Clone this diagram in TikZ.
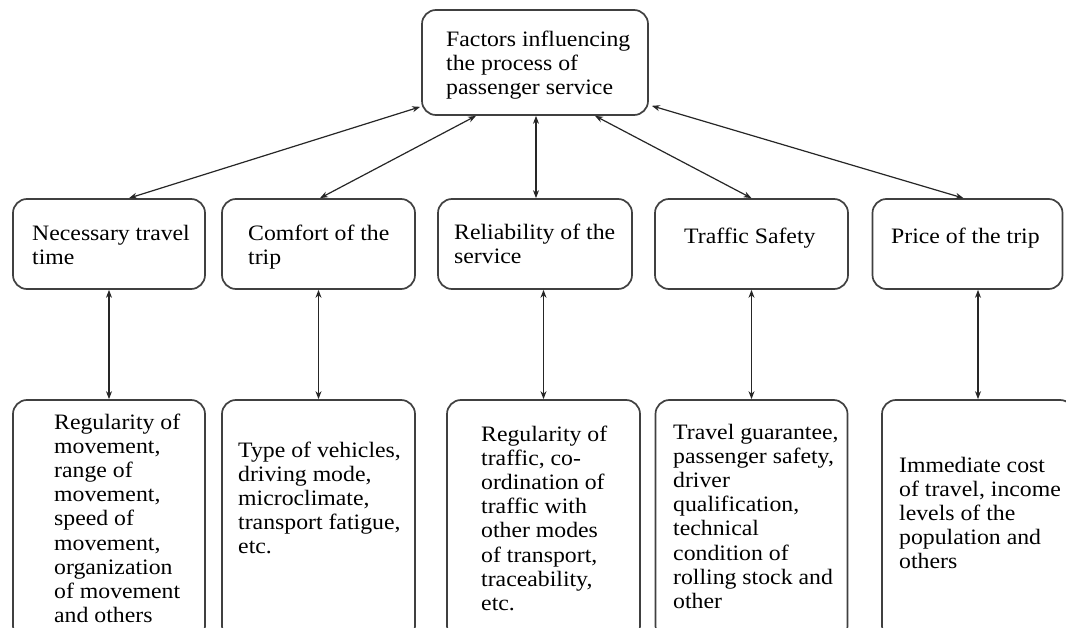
\documentclass[tikz,border=0pt]{standalone}
\usepackage{fontspec}
\setmainfont{Liberation Serif}[FakeStretch=1.08]
\usetikzlibrary{arrows.meta,calc}
\tikzset{
  box/.style={draw=black!75, line width=1.7pt, rounded corners=14pt, inner sep=0pt, fill=none},
  txt/.style={anchor=north west, inner sep=0pt, align=left, font={\fontsize{22}{24.2}\selectfont}},
  conn/.style={{Stealth[length=8pt,width=6pt]}-{Stealth[length=8pt,width=6pt]}, line width=1.2pt, draw=black!85}
}
\begin{document}
\begin{tikzpicture}[x=1pt,y=-1pt]
\useasboundingbox (0,0) rectangle (1066,628);
\clip (0,0) rectangle (1066,628);
\fill[white] (0,0) rectangle (1066,628);
% boxes
\node[box, minimum width=226pt, minimum height=105pt] (top) at (535,62.5) {};
\node[box, minimum width=192pt, minimum height=90pt] (m1) at (109,244) {};
\node[box, minimum width=193pt, minimum height=90pt] (m2) at (318.5,244) {};
\node[box, minimum width=194pt, minimum height=90pt] (m3) at (535,244) {};
\node[box, minimum width=193pt, minimum height=90pt] (m4) at (751.5,244) {};
\node[box, minimum width=190pt, minimum height=90pt] (m5) at (967.5,244) {};
\node[box, minimum width=192pt, minimum height=240pt] (b1) at (109,520) {};
\node[box, minimum width=193pt, minimum height=240pt] (b2) at (318.5,520) {};
\node[box, minimum width=193pt, minimum height=240pt] (b3) at (543.5,520) {};
\node[box, minimum width=192pt, minimum height=240pt] (b4) at (751.5,520) {};
\node[box, minimum width=192pt, minimum height=240pt] (b5) at (978,520) {};
% texts
\node[txt] (t0) at (446,29) {\strut Factors influencing\\the process of\\passenger service};
\node[txt] (tm1) at (32,223) {\strut Necessary travel\\time};
\node[txt] (tm2) at (248,223) {\strut Comfort of the\\trip};
\node[txt] (tm3) at (454,222) {\strut Reliability of the\\service};
\node[txt] (tm4) at (684,226) {\strut Traffic Safety};
\node[txt] (tm5) at (891,226) {\strut Price of the trip};
\node[txt] (tb1) at (54,412) {\strut Regularity of\\movement,\\range of\\movement,\\speed of\\movement,\\organization\\of movement\\and others};
\node[txt] (tb2) at (238,440) {\strut Type of vehicles,\\driving mode,\\microclimate,\\transport fatigue,\\etc.};
\node[txt] (tb3) at (481,424) {\strut Regularity of\\traffic, co-\\ordination of\\traffic with\\other modes\\of transport,\\traceability,\\etc.};
\node[txt] (tb4) at (673,422) {\strut Travel guarantee,\\passenger safety,\\driver\\qualification,\\technical\\condition of\\rolling stock and\\other};
\node[txt] (tb5) at (899,455) {\strut Immediate cost\\of travel, income\\levels of the\\population and\\others};
% connectors
\draw[conn] ($(top.south west)+(-1,-9)$) -- ($(m1.north)+(20,0)$);
\draw[conn] ($(top.south)+(-59,0)$) -- ($(m2.north)+(1.5,0)$);
\draw[conn] ($(top.south)+(1,0)$) -- ($(m3.north)+(1,0)$);
\draw[conn] ($(top.south)+(60,0)$) -- (m4.north);
\draw[conn] ($(top.south east)+(3,-10)$) -- ($(m5.north)+(-4,0)$);
\draw[conn] (m1.south) -- (b1.north);
\draw[conn] (m2.south) -- (b2.north);
\draw[conn] (b3.north |- m3.south) -- (b3.north);
\draw[conn] (m4.south) -- (b4.north);
\draw[conn] (b5.north |- m5.south) -- (b5.north);
\end{tikzpicture}
\end{document}
